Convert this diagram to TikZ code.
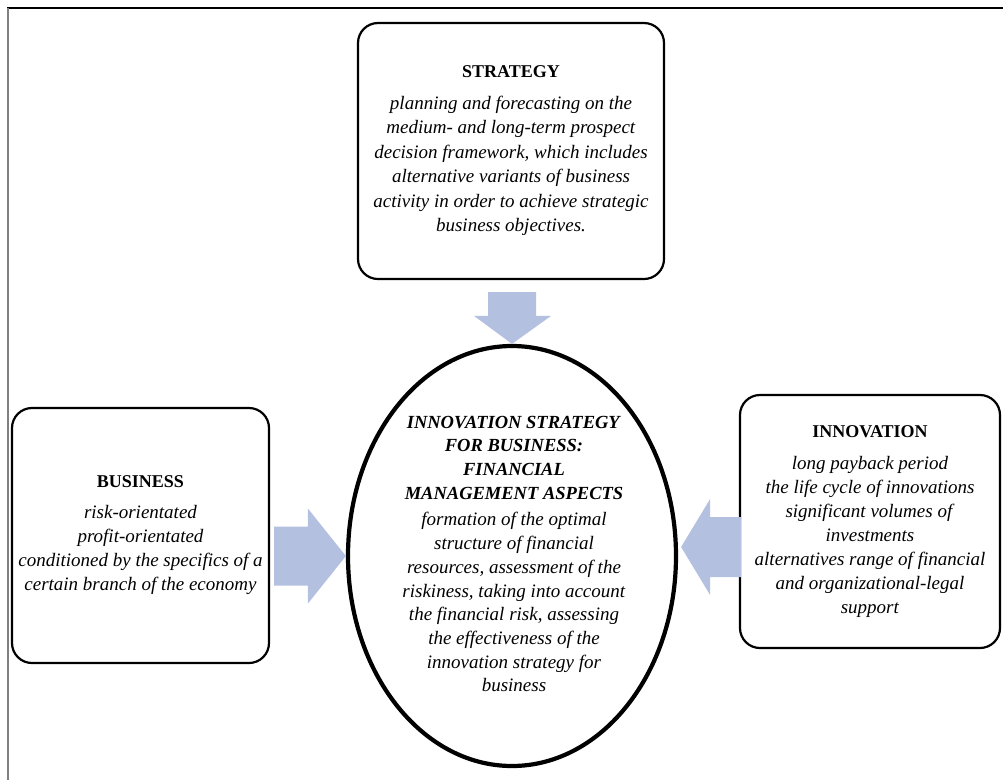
\documentclass[tikz,border=0pt]{standalone}
\usepackage{fontspec}
\setmainfont{Liberation Serif}
\usetikzlibrary{shapes.geometric,calc}
\definecolor{arrowblue}{RGB}{180,192,224}
\newcommand{\boxtitle}[1]{{\fontsize{18}{24}\selectfont\textbf{#1}}}
\begin{document}
\begin{tikzpicture}[x=1pt,y=-1pt,
  box/.style={draw, line width=2.2pt, rounded corners=20pt, align=center, inner sep=0pt,
    font=\fontsize{19}{24}\selectfont},
  oval/.style={draw, ellipse, line width=4.2pt, inner sep=0pt},
  ovaltext/.style={align=center, inner sep=0pt, font=\fontsize{19}{23.7}\selectfont},
  blockarrow/.style={fill=arrowblue, draw=none}]
\useasboundingbox (0,0) rectangle (1003,780);
% frame
\draw[line width=1.5pt, black] (7,8) -- (1003,8);
\draw[line width=2pt, gray] (7.5,8) -- (7.5,780);

\node[box, minimum width=306pt, minimum height=256pt, font=\fontsize{19}{24.5}\selectfont] (strat) at (511,151)
 {\boxtitle{STRATEGY}\\[7pt]
  \textit{planning and forecasting on the}\\
  \textit{medium- and long-term prospect}\\
  \textit{decision framework, which includes}\\
  \textit{alternative variants of business}\\
  \textit{activity in order to achieve strategic}\\
  \textit{business objectives.}};

\node[box, minimum width=257pt, minimum height=255pt] (bus) at (140.5,535.5)
 {\boxtitle{BUSINESS}\\[7pt]
  \textit{risk-orientated}\\
  \textit{profit-orientated}\\
  \textit{conditioned by the specifics of a}\\
  \textit{certain branch of the economy}};

\node[box, minimum width=260pt, minimum height=253pt] (innov) at (870,521.5)
 {\boxtitle{INNOVATION}\\[8pt]
  \textit{long payback period}\\
  \textit{the life cycle of innovations}\\
  \textit{significant volumes of}\\
  \textit{investments}\\
  \textit{alternatives range of financial}\\
  \textit{and organizational-legal}\\
  \textit{support}};

\node[oval, minimum width=328pt, minimum height=420pt] (cen) at (512,556) {};
\node[ovaltext] (centext) at ($(cen.center)+(2,-2)$)
 {{\fontsize{18.5}{23.7}\selectfont\textbf{\textit{INNOVATION STRATEGY}}}\\
  {\fontsize{18.5}{23.7}\selectfont\textbf{\textit{FOR BUSINESS:}}}\\
  {\fontsize{18.5}{23.7}\selectfont\textbf{\textit{FINANCIAL}}}\\
  {\fontsize{18.5}{23.7}\selectfont\textbf{\textit{MANAGEMENT ASPECTS}}}\\[3pt]
  \textit{formation of the optimal}\\
  \textit{structure of financial}\\
  \textit{resources, assessment of the}\\
  \textit{riskiness, taking into account}\\
  \textit{the financial risk, assessing}\\
  \textit{the effectiveness of the}\\
  \textit{innovation strategy for}\\
  \textit{business}};

% down arrow: strategy -> centre
\coordinate (dtip) at (cen.north);
\coordinate (dtail) at ($(strat.south -| dtip)+(0,12)$);
\fill[blockarrow] ($(dtail)+(-24,0)$) -- ($(dtail)+(24,0)$) -- ($(dtip)+(24,-28)$)
  -- ($(dtip)+(39,-28)$) -- (dtip) -- ($(dtip)+(-38,-28)$) -- ($(dtip)+(-24,-28)$) -- cycle;

% right arrow: business -> centre
\coordinate (rtip) at (cen.west);
\coordinate (rtail) at ($(bus.east |- rtip)+(4,0)$);
\fill[blockarrow] ($(rtail)+(0,-29.5)$) -- ($(rtip)+(-38,-29.5)$) -- ($(rtip)+(-38,-47.5)$)
  -- (rtip) -- ($(rtip)+(-38,47.5)$) -- ($(rtip)+(-38,29.5)$) -- ($(rtail)+(0,29.5)$) -- cycle;

% left arrow: innovation -> centre
\coordinate (ltip) at ($(cen.east)+(3,-9)$);
\coordinate (ltail) at ($(innov.west |- ltip)+(2,0)$);
\fill[blockarrow] ($(ltail)+(0,-30)$) -- ($(ltip)+(29,-30)$) -- ($(ltip)+(29,-48)$)
  -- (ltip) -- ($(ltip)+(29,48)$) -- ($(ltip)+(29,30)$) -- ($(ltail)+(0,30)$) -- cycle;
\end{tikzpicture}
\end{document}
